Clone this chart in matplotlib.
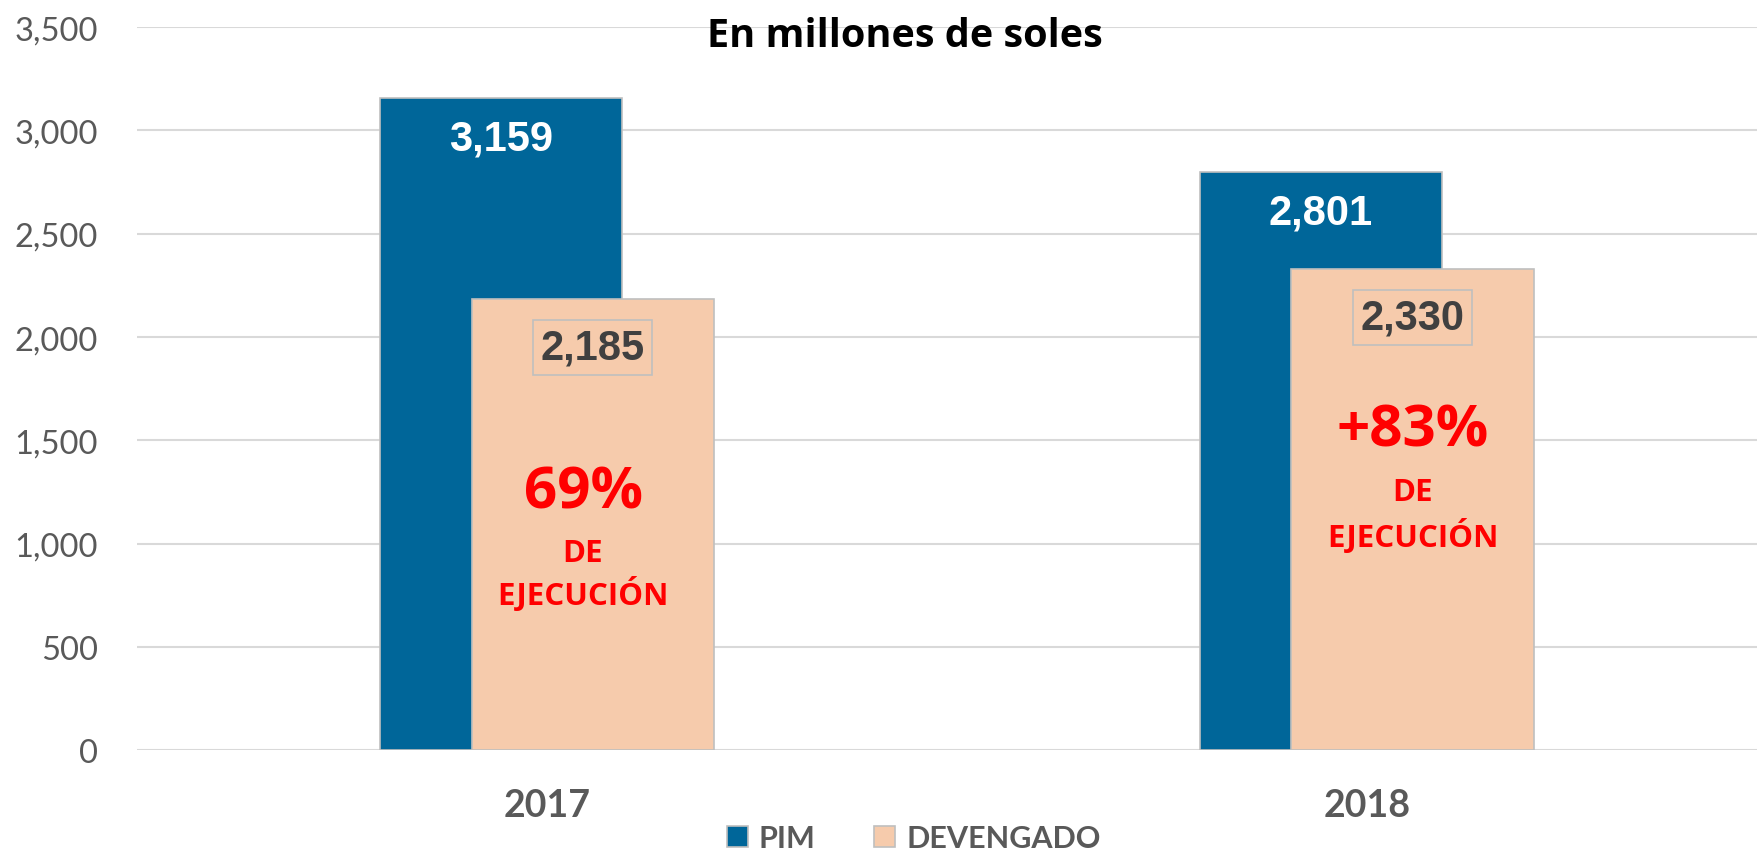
import numpy as np
import matplotlib.pyplot as plt
from matplotlib.ticker import FuncFormatter

years = ["2017", "2018"]
pim = [3159, 2801]
devengado = [2185, 2330]
pct_labels = ["69%", "+83%"]

azul = "#006699"
salmon = "#F6CBAC"
gris = "#595959"

fig = plt.figure(figsize=(17.57, 8.53), dpi=100)
ax = fig.add_axes([0.078, 0.119, 0.922, 0.848])

x = np.arange(len(years))
w = 0.296
off = 0.056
ax.bar(x - off, pim, w, color=azul, edgecolor="#BFBFBF", linewidth=1.2, zorder=2, label="PIM")
ax.bar(x + off, devengado, w, color=salmon, edgecolor="#BFBFBF", linewidth=1.2, zorder=3, label="DEVENGADO")

ax.set_xlim(-0.5, 1.476)
ax.set_ylim(0, 3500)
ax.set_yticks(np.arange(0, 3501, 500))
ax.yaxis.set_major_formatter(FuncFormatter(lambda v, p: f"{v:,.0f}"))
ax.grid(axis="y", color="#D9D9D9", linewidth=1.5, zorder=0)
for s in ax.spines.values():
    s.set_visible(False)
ax.tick_params(axis="y", length=0, labelsize=23.5, labelcolor=gris, pad=28)
ax.tick_params(axis="x", length=0, pad=27)
ax.set_xticks(x)
ax.set_xticklabels(years, fontsize=27, fontweight="bold", color=gris, family="Lato")
for t in ax.get_yticklabels():
    t.set_family("Lato")

# etiquetas de valor
for i in range(len(years)):
    ax.text(x[i] - off, pim[i] - 197, f"{pim[i]:,}", ha="center", va="center",
            fontsize=30, fontweight="bold", color="white", family="Liberation Sans", zorder=5)
    ax.text(x[i] + off, devengado[i] - 235, f"{devengado[i]:,}", ha="center", va="center",
            fontsize=30, fontweight="bold", color="#404040", family="Liberation Sans", zorder=5,
            bbox=dict(boxstyle="square,pad=0.18", facecolor=salmon, edgecolor="#BFBFBF", linewidth=1.2))

pct_x = [-0.012, 0.0]
pct_y = [1249, 1549]
de_y = [958, 1249]
ej_y = [760, 1041]
for i in range(len(years)):
    xc = x[i] + off + pct_x[i]
    ax.text(xc, pct_y[i], pct_labels[i], ha="center", va="center",
            fontsize=42, fontweight="bold", color="red", family="Open Sans", zorder=5)
    ax.text(xc, de_y[i], "DE", ha="center", va="center",
            fontsize=22.5, fontweight="bold", color="red", family="Open Sans", zorder=5)
    ax.text(xc, ej_y[i], "EJECUCIÓN", ha="center", va="center",
            fontsize=22.5, fontweight="bold", color="red", family="Open Sans", zorder=5)

fig.text(0.515, 0.957, "En millones de soles", ha="center", va="center",
         fontsize=28.5, fontweight="bold", color="black", family="Open Sans")

leg = fig.legend(loc="center", bbox_to_anchor=(0.52, 0.016), ncol=2, frameon=False,
                 prop={"family": "Lato", "weight": "bold", "size": 22},
                 handlelength=0.7, handleheight=0.7, columnspacing=1.9, handletextpad=0.35)
for t in leg.get_texts():
    t.set_color(gris)

fig.savefig("out.png", dpi=100)
